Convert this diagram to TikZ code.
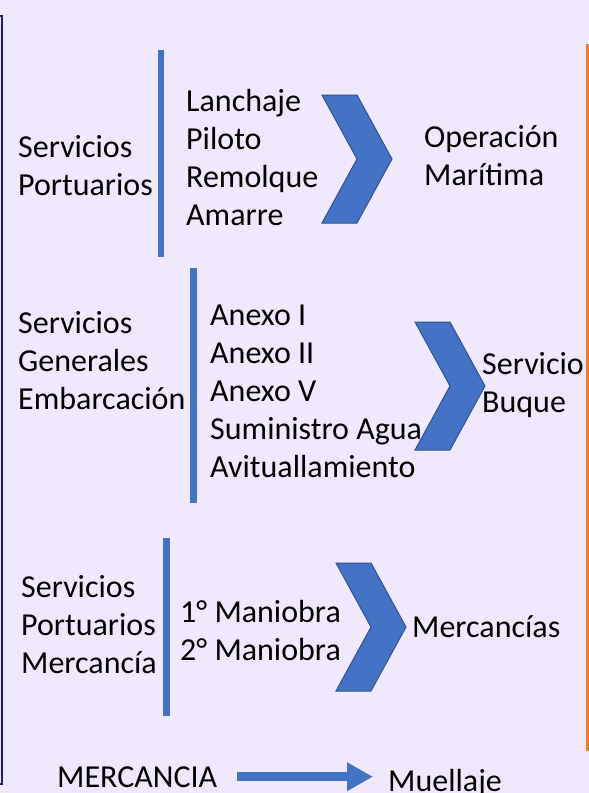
\documentclass[tikz,border=0pt]{standalone}
\usepackage{fontspec}
\setmainfont{Carlito}
\usetikzlibrary{arrows.meta}
\definecolor{fondo}{RGB}{240,232,253}
\definecolor{azul}{RGB}{68,114,196}
\definecolor{azulborde}{RGB}{47,82,143}
\definecolor{naranja}{RGB}{237,125,49}
\definecolor{marino}{RGB}{32,24,140}
\tikzset{
  texto/.style={anchor=base west, inner sep=0pt, align=left, font=\fontsize{32}{38}\selectfont},
  barra/.style={fill=azul},
  galonst/.style={fill=azul, draw=azulborde, line width=1pt},
  flecha/.style={azul, line width=9pt, -{Triangle[length=26pt,width=27pt]}}
}
% galon: x izquierda, y arriba
\newcommand{\galon}[2]{%
  \filldraw[galonst] (#1,#2) -- ++(35,0) -- ++(35,64) -- ++(-35,64) -- ++(-35,0) -- ++(35,-64) -- cycle;}
\begin{document}
\begin{tikzpicture}[x=1pt,y=-1pt]
            \fill[fondo] (0,0) rectangle (589,793);
            \useasboundingbox (0,0) rectangle (589,793);
            \draw[marino, line width=2pt] (-10,16) -- (2,16) -- (2,784) -- (-10,784);
            \fill[naranja] (586,44) rectangle (594,751);

            % operacion maritima (ancla = ultima linea)
            \fill[barra] (158,50) rectangle (164,257);
            \node[texto] (sp) at (18,195) {Servicios\\Portuarios};
            \node[texto] (lista1) at (186,225) {Lanchaje\\Piloto\\Remolque\\Amarre};
            \galon{322}{95}
            \node[texto] (om) at (424,185) {Operación\\Marítima};

            % servicio buque
            \fill[barra] (190,268) rectangle (197,503);
            \node[texto] (sge) at (18,409) {Servicios\\Generales\\Embarcación};
            \node[texto] (lista2) at (210,477) {Anexo I\\Anexo II\\Anexo V\\Suministro Agua\\Avituallamiento};
            \galon{415}{322}
            \node[texto] (sb) at (482,412) {Servicio\\Buque};

            % mercancias
            \fill[barra] (163,538) rectangle (170,716);
            \node[texto] (spm) at (21,673) {Servicios\\Portuarios\\Mercancía};
            \node[texto] (lista3) at (180,660) {1° Maniobra\\2° Maniobra};
            \galon{336}{563}
            \node[texto] (me) at (412,637) {Mercancías};

            % muellaje
            \node[texto] (merc) at (57,787) {MERCANCIA};
            \node[texto] (muel) at (388,791) {Muellaje};
            \draw[flecha] (merc.east -| 237,0) -- (merc.east -| 373,0);
        \end{tikzpicture}
\end{document}
